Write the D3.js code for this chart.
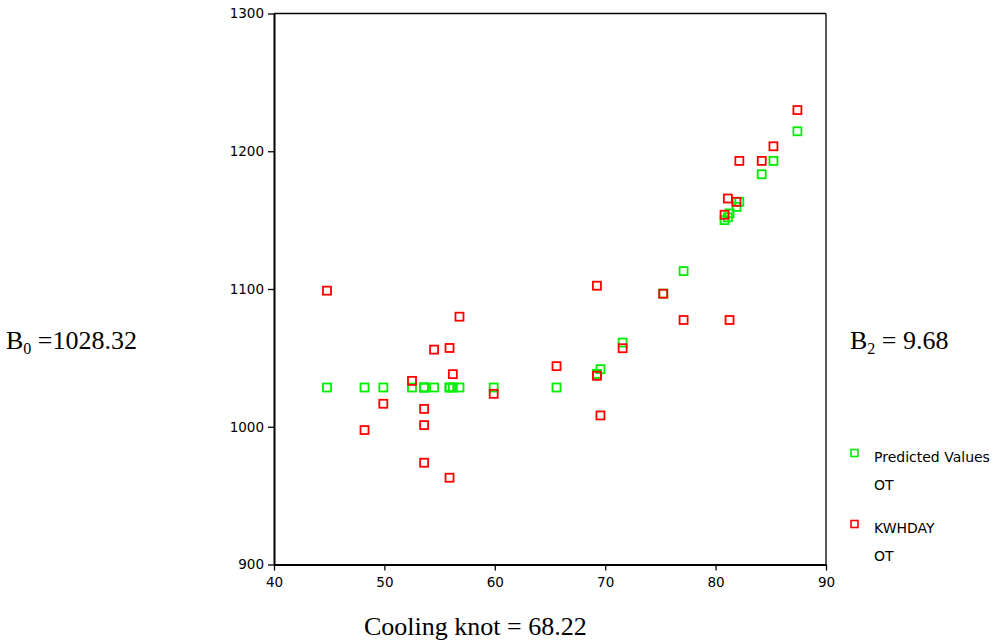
<!DOCTYPE html>
<html><head><meta charset="utf-8">
<script src="https://cdn.jsdelivr.net/npm/d3@7/dist/d3.min.js"></script>
<style>html,body{margin:0;padding:0;background:#fff;}svg{display:block;}</style>
</head><body>
<script>
// Data
const xValues = [44.8, 48.2, 49.9, 52.5, 53.6, 53.6, 53.6, 54.5, 55.9, 55.9, 56.2, 56.8, 59.9, 65.59,
  69.25, 69.25, 69.57, 71.58, 75.26, 77.10, 80.81, 81.11, 81.26, 81.89, 82.15, 84.18, 85.24, 87.41];
const kwhday = [1098.8, 997.6, 1016.7, 1033.3, 1013.0, 1001.2, 973.9, 1056.0, 1057.2, 963.0, 1038.2, 1079.9, 1023.9, 1044.0,
  1102.4, 1037.0, 1008.2, 1057.0, 1096.6, 1077.5, 1153.9, 1165.7, 1077.5, 1163.3, 1193.0, 1193.0, 1203.6, 1229.9];
const predicted = [1028.5, 1028.5, 1028.5, 1028.5, 1028.5, 1028.5, 1028.5, 1028.5, 1028.5, 1028.5, 1028.5, 1028.5, 1028.5, 1028.5,
  1038.4, 1038.4, 1041.8, 1061.1, 1096.6, 1113.0, 1150.0, 1152.0, 1154.9, 1159.6, 1163.3, 1183.3, 1193.0, 1214.5];
const xTicks = [40, 50, 60, 70, 80, 90];
const yTicks = [900, 1000, 1100, 1200, 1300];
const legendLabels = [["Predicted Values", "OT"], ["KWHDAY", "OT"]];
const annotations = {b0: "1028.32", b2: "9.68", knot: "Cooling knot = 68.22"};

const W = 993, H = 642;
const svg = d3.select("body").append("svg").attr("width", W).attr("height", H);
svg.append("rect").attr("width", W).attr("height", H).attr("fill", "#fff");

const x = d3.scaleLinear().domain([40, 90]).range([274, 826]);
const y = d3.scaleLinear().domain([900, 1300]).range([564.5, 13.5]);

const tickFont = "'DejaVu Sans', sans-serif";

// frame (top/right)
svg.append("line").attr("x1", x(40)).attr("x2", x(90)).attr("y1", y(1300)).attr("y2", y(1300))
  .attr("stroke", "#000").attr("stroke-width", 1.3);
svg.append("line").attr("x1", x(90)).attr("x2", x(90)).attr("y1", y(1300)).attr("y2", y(900))
  .attr("stroke", "#000").attr("stroke-width", 1.3);

// axes
const xAxis = d3.axisBottom(x).tickValues(xTicks).tickSize(6).tickSizeOuter(0).tickPadding(4).tickFormat(d3.format("d"));
const yAxis = d3.axisLeft(y).tickValues(yTicks).tickSize(6).tickSizeOuter(0).tickPadding(4).tickFormat(d3.format("d"));

const gx = svg.append("g").attr("transform", `translate(0,${y(900)})`).call(xAxis);
const gy = svg.append("g").attr("transform", `translate(${x(40)},0)`).call(yAxis);
[gx, gy].forEach(g => {
  g.select(".domain").attr("stroke", "#000").attr("stroke-width", 2);
  g.selectAll(".tick line").attr("stroke", "#000").attr("stroke-width", 1.3);
  g.selectAll(".tick text").attr("fill", "#000").style("font-family", tickFont).style("font-size", "13.5px");
});
gx.selectAll(".tick text").attr("dy", "0.9em");

// markers
const s = 8;
function drawSeries(vals, color) {
  svg.append("g").selectAll("rect").data(xValues.map((xv, i) => [xv, vals[i]])).join("rect")
    .attr("x", d => x(d[0]) - s / 2).attr("y", d => y(d[1]) - s / 2)
    .attr("width", s).attr("height", s)
    .attr("fill", "none").attr("stroke", color).attr("stroke-width", 1.8);
}
drawSeries(predicted, "#00ee00");
drawSeries(kwhday, "#ff0000");

// legend
const legColors = ["#00ee00", "#ff0000"];
const legY = [453, 524];
const legTextY = [[457, 485.5], [528, 556]];
legendLabels.forEach((lab, i) => {
  svg.append("rect").attr("x", 854.5 - 3.5).attr("y", legY[i] - 3.5).attr("width", 7).attr("height", 7)
    .attr("fill", "none").attr("stroke", legColors[i]).attr("stroke-width", 1.6);
  lab.forEach((t, j) => {
    svg.append("text").attr("x", 874).attr("y", legTextY[i][j])
      .attr("dy", "0.35em").style("font-family", tickFont).style("font-size", "14px").attr("fill", "#000").text(t);
  });
});

// serif annotations
const serif = "'Liberation Serif', 'Times New Roman', serif";
const t0 = svg.append("text").attr("x", 6).attr("y", 349).style("font-family", serif).style("font-size", "26px").attr("fill", "#000");
t0.append("tspan").text("B");
t0.append("tspan").attr("dy", 5).style("font-size", "16px").text("0");
t0.append("tspan").attr("dy", -5).text(" =" + annotations.b0);

const t2 = svg.append("text").attr("x", 850).attr("y", 349).style("font-family", serif).style("font-size", "26px").attr("fill", "#000");
t2.append("tspan").text("B");
t2.append("tspan").attr("dy", 5).style("font-size", "16px").text("2");
t2.append("tspan").attr("dy", -5).text(" = " + annotations.b2);

svg.append("text").attr("x", 364).attr("y", 635).style("font-family", serif).style("font-size", "26px")
  .attr("fill", "#000").text(annotations.knot);
</script>
</body></html>
